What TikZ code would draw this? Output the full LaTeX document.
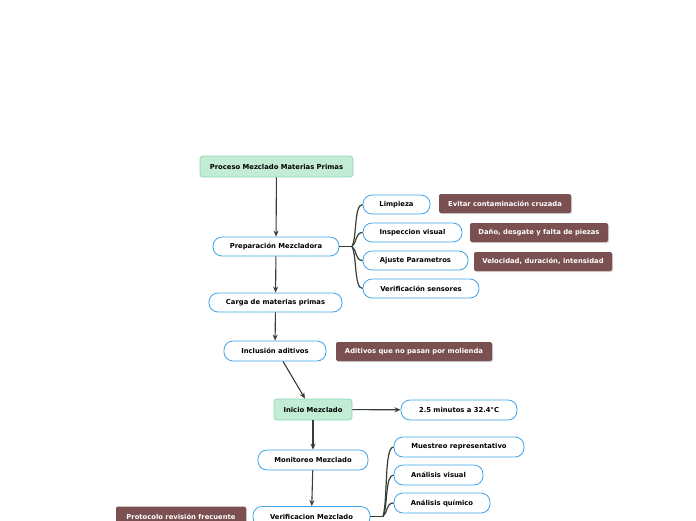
\documentclass[tikz,border=0pt]{standalone}
\usepackage{fontspec}
\setmainfont{DejaVu Sans}
\usetikzlibrary{arrows.meta,shadows}
\definecolor{greenfill}{HTML}{C2ECD4}
\definecolor{greenline}{HTML}{8FD6B6}
\definecolor{blueline}{HTML}{3FA3EA}
\definecolor{brownfill}{HTML}{7A5050}
\definecolor{linkcol}{HTML}{363D36}
\tikzset{
  base/.style={font=\bfseries\fontsize{6.8}{7.5}\selectfont, inner sep=0pt, align=center},
  topic/.style={base, fill=greenfill, draw=greenline, line width=0.8pt, rounded corners=3pt},
  pill/.style={base, fill=white, draw=blueline, line width=0.8pt, rounded corners=9pt},
  note/.style={base, fill=brownfill, text=white, rounded corners=2pt, drop shadow={shadow xshift=1pt, shadow yshift=-1pt, opacity=0.35}},
  arr/.style={draw=linkcol, line width=1.1pt, -{Stealth[length=6pt,width=5pt]}},
  branch/.style={draw=linkcol, line width=1.2pt},
}
\begin{document}
\begin{tikzpicture}[x=1pt,y=-1pt]
\useasboundingbox (0,0) rectangle (696,520);
\clip (0,0) rectangle (696,520);
\coordinate (pj) at (352,246.5);
\coordinate (vj) at (383,516.5);
% main flow
\node[topic, minimum width=153pt, minimum height=21pt] (proc) at (276.5,166.5) {Proceso Mezclado Materias Primas};
\node[pill, minimum width=126pt, minimum height=19pt] (prep) at (276,246.5) {Preparación Mezcladora};
\node[pill, minimum width=133pt, minimum height=19pt] (carga) at (275.5,302.5) {Carga de materias primas};
\node[pill, minimum width=102pt, minimum height=20pt] (incl) at (275,351) {Inclusión aditivos};
\node[topic, minimum width=78pt, minimum height=21pt] (inicio) at (313,409.5) {Inicio Mezclado};
\node[pill, minimum width=116pt, minimum height=20pt] (minut) at (459,410) {2.5 minutos a 32.4°C};
\node[pill, minimum width=110pt, minimum height=20pt] (monit) at (313,460) {Monitoreo Mezclado};
\node[pill, minimum width=117pt, minimum height=20pt] (verif) at (311.5,516.5) {Verificacion Mezclado};
% preparation children
\node[pill, minimum width=67pt, minimum height=19pt] (limp) at (396.5,204.5) {Limpieza};
\node[pill, minimum width=99pt, minimum height=19pt] (insp) at (412.5,232.5) {Inspeccion visual};
\node[pill, minimum width=105pt, minimum height=19pt] (ajus) at (415.5,260.5) {Ajuste Parametros};
\node[pill, minimum width=116pt, minimum height=19pt] (vsens) at (421,288.5) {Verificación sensores};
% verification children
\node[pill, minimum width=130pt, minimum height=20pt] (muest) at (459,447) {Muestreo representativo};
\node[pill, minimum width=89pt, minimum height=20pt] (avis) at (438.5,475) {Análisis visual};
\node[pill, minimum width=96pt, minimum height=20pt] (aquim) at (442,503) {Análisis químico};
% notes
\node[note, minimum width=132pt, minimum height=19pt] (evit) at (505,203.5) {Evitar contaminación cruzada};
\node[note, minimum width=138pt, minimum height=19pt] (dano) at (539,232.5) {Daño, desgate y falta de piezas};
\node[note, minimum width=138pt, minimum height=19pt] (vel) at (543,261.5) {Velocidad, duración, intensidad};
\node[note, minimum width=156pt, minimum height=19pt] (adit) at (414,351.5) {Aditivos que no pasan por molienda};
\node[note, minimum width=130pt, minimum height=20pt] (prot) at (181,516.5) {Protocolo revisión frecuente};
% arrows
\draw[arr] (proc) -- (prep);
\draw[arr] (prep) -- (carga);
\draw[arr] (carga) -- (incl);
\draw[arr] ([xshift=8pt]incl.south) -- ([xshift=-8pt]inicio.north);
\draw[arr] (inicio) -- (minut);
\draw[arr] (inicio) -- (monit);
\draw[arr] (monit) -- (verif);
% branches from preparation
\draw[branch] (prep.east) -- (pj);
\draw[branch] (pj) .. controls (357,237) and (354,204.5) .. (limp.west);
\draw[branch] (pj) .. controls (357,243) and (355,232.5) .. (insp.west);
\draw[branch] (pj) .. controls (357,250) and (355,260.5) .. (ajus.west);
\draw[branch] (pj) .. controls (357,256) and (354,288.5) .. (vsens.west);
% branches from verification
\draw[branch] (verif.east) -- (vj);
\draw[branch] (vj) .. controls (388,499) and (384,447) .. (muest.west);
\draw[branch] (vj) .. controls (388,506) and (385,475) .. (avis.west);
\draw[branch] (vj) .. controls (388,512) and (386,503) .. (aquim.west);
\end{tikzpicture}
\end{document}
